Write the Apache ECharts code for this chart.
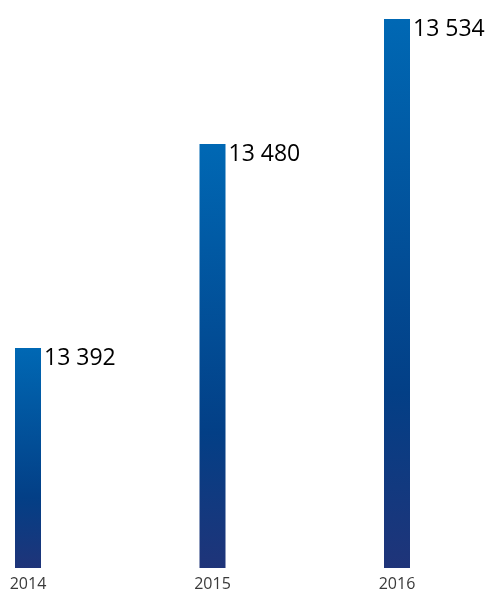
<!DOCTYPE html>
<html>
<head>
<meta charset="utf-8">
<script src="https://cdn.jsdelivr.net/npm/echarts@6/dist/echarts.min.js"></script>
<style>
  html, body { margin: 0; padding: 0; background: #fff; }
  #chart { width: 491px; height: 592px; }
</style>
</head>
<body>
<div id="chart"></div>
<script>
// годы и значения
const years = ['2014', '2015', '2016']
const values = [13392, 13480, 13534]
// шкала начинается не с нуля
const axisMin = 13297
const axisMax = 13534

function fmt (v) {
  return String(v).replace(/\B(?=(\d{3})+(?!\d))/g, ' ')
}

const chart = echarts.init(document.getElementById('chart'))
chart.setOption({
  animation: false,
  grid: { left: 28, right: 94, top: 19, bottom: 22 },
  xAxis: {
    type: 'category',
    data: years,
    boundaryGap: false,
    axisLine: { show: false },
    axisTick: { show: false },
    axisLabel: { color: '#3a3a3a', fontSize: 16, fontFamily: 'Open Sans', margin: 8 }
  },
  yAxis: {
    type: 'value',
    min: axisMin,
    max: axisMax,
    show: false,
    splitLine: { show: false }
  },
  series: [{
    type: 'bar',
    data: values,
    barWidth: 26,
    itemStyle: {
      color: new echarts.graphic.LinearGradient(0, 0, 0, 1, [
        { offset: 0, color: '#0068b4' },
        { offset: 0.68, color: '#033f86' },
        { offset: 1, color: '#1f3479' }
      ])
    },
    label: {
      show: true,
      position: [29, -1],
      color: '#000',
      fontSize: 23,
      fontFamily: 'Open Sans',
      formatter: p => fmt(p.value)
    }
  }]
})
</script>
</body>
</html>
